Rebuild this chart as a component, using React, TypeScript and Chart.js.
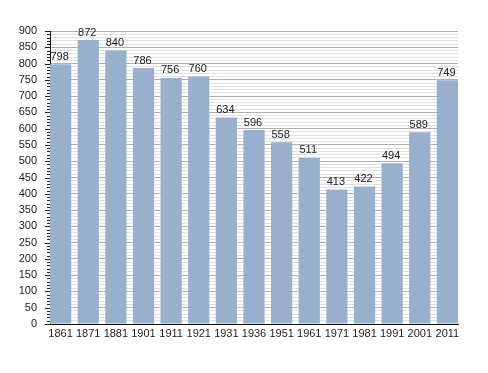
import React, { useEffect, useRef } from "react";
import { Chart, registerables } from "chart.js";

Chart.register(...registerables);

const years = ["1861", "1871", "1881", "1901", "1911", "1921", "1931", "1936", "1951", "1961", "1971", "1981", "1991", "2001", "2011"];
const population = [798, 872, 840, 786, 756, 760, 634, 596, 558, 511, 413, 422, 494, 589, 749];
const yMax = 900;
const yMajorStep = 50;
const yMinorStep = 10;

const FONT = '"Liberation Sans", Arial, sans-serif';

const valueLabels = {
  id: "valueLabels",
  afterDatasetsDraw(chart: any) {
    const ctx = chart.ctx;
    const meta = chart.getDatasetMeta(0);
    ctx.save();
    ctx.font = `11px ${FONT}`;
    ctx.fillStyle = "#222";
    ctx.textAlign = "center";
    ctx.textBaseline = "bottom";
    meta.data.forEach((bar: any, i: number) => {
      ctx.fillText(String(population[i]), bar.x - 1, bar.y - 2);
    });
    ctx.restore();
  },
};

const axisTicks = {
  id: "axisTicks",
  afterDraw(chart: any) {
    const ctx = chart.ctx;
    const y = chart.scales.y;
    const left = chart.chartArea.left;
    ctx.save();
    ctx.strokeStyle = "#222";
    ctx.lineWidth = 1;
    y.ticks.forEach((t: any) => {
      const py = Math.round(y.getPixelForValue(t.value)) + 0.5;
      const len = t.value % yMajorStep === 0 ? 5 : 3;
      ctx.beginPath();
      ctx.moveTo(left - len, py);
      ctx.lineTo(left, py);
      ctx.stroke();
    });
    ctx.restore();
  },
};

export default function App() {
  const ref = useRef<HTMLCanvasElement>(null);
  useEffect(() => {
    if (!ref.current) return;
    const chart = new Chart(ref.current, {
      type: "bar",
      data: {
        datasets: [
          {
            data: population.map((v, i) => ({ x: i, y: v })),
            backgroundColor: "#98b0cc",
            borderWidth: 0,
            barPercentage: 0.96,
            categoryPercentage: 0.8,
          },
        ],
      },
      options: {
        animation: false,
        responsive: false,
        maintainAspectRatio: false,
        layout: { padding: { top: 31, right: 30, bottom: 0, left: 0 } },
        plugins: { legend: { display: false }, tooltip: { enabled: false } },
        scales: {
          x: {
            type: "linear",
            offset: false,
            min: -0.384,
            max: years.length - 1 + 0.384,
            grid: { display: false, drawTicks: false },
            border: { display: true, color: "#111", width: 1 },
            ticks: {
              stepSize: 1,
              includeBounds: false,
              autoSkip: false,
              maxRotation: 0,
              padding: 3,
              color: "#222",
              font: { family: FONT, size: 11 },
              callback: (v: any) => (Number.isInteger(v) && years[v] ? years[v] : ""),
            },
            afterFit: (s: any) => {
              s.height = 49;
            },
          },
          y: {
            min: 0,
            max: yMax,
            grid: {
              drawTicks: false,
              color: (c: any) => (c.tick && c.tick.value % yMajorStep === 0 ? "#b0b0b0" : "#e0e0e0"),
              lineWidth: 1,
            },
            border: { display: true, color: "#111", width: 1 },
            ticks: {
              stepSize: yMinorStep,
              autoSkip: false,
              maxTicksLimit: 200,
              padding: 13,
              color: "#222",
              font: { family: FONT, size: 11 },
              callback: (v: any) => (v % yMajorStep === 0 ? String(v) : ""),
            },
            afterFit: (s: any) => {
              s.width = 50;
            },
          },
        },
      },
      plugins: [valueLabels, axisTicks],
    });
    return () => chart.destroy();
  }, []);
  return (
    <div style={{ position: "fixed", left: 0, top: 0, width: 488, height: 373, background: "#fff" }}>
      <canvas ref={ref} width={488} height={373} style={{ display: "block" }} />
    </div>
  );
}
